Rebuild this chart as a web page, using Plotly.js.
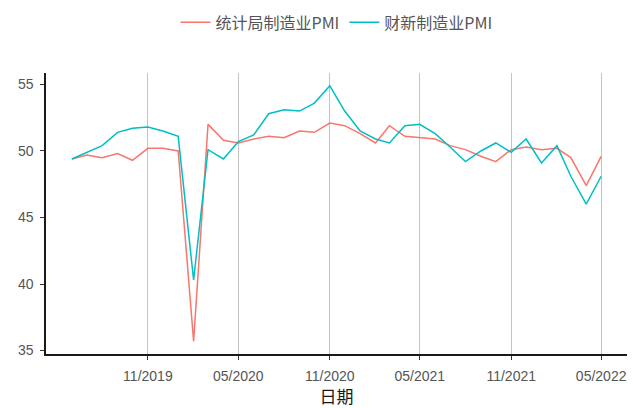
<!DOCTYPE html>
<html>
<head>
<meta charset="utf-8">
<script src="https://cdn.plot.ly/plotly-3.0.1.min.js"></script>
<style>html,body{margin:0;padding:0;background:#fff;}#chart{width:633px;height:408px;}</style>
</head>
<body>
<div id="chart"></div>
<script>
const months = [
  "2019-06-01","2019-07-01","2019-08-01","2019-09-01","2019-10-01","2019-11-01","2019-12-01",
  "2020-01-01","2020-02-01","2020-03-01","2020-04-01","2020-05-01","2020-06-01","2020-07-01",
  "2020-08-01","2020-09-01","2020-10-01","2020-11-01","2020-12-01","2021-01-01","2021-02-01",
  "2021-03-01","2021-04-01","2021-05-01","2021-06-01","2021-07-01","2021-08-01","2021-09-01",
  "2021-10-01","2021-11-01","2021-12-01","2022-01-01","2022-02-01","2022-03-01","2022-04-01",
  "2022-05-01"
];
const nbsPMI = [
  49.4,49.7,49.5,49.8,49.3,50.2,50.2,
  50.0,35.7,52.0,50.8,50.6,50.9,51.1,
  51.0,51.5,51.4,52.1,51.9,51.3,50.6,
  51.9,51.1,51.0,50.9,50.4,50.1,49.6,
  49.2,50.1,50.3,50.1,50.2,49.5,47.4,
  49.6
];
const caixinPMI = [
  49.4,49.9,50.4,51.4,51.7,51.8,51.5,
  51.1,40.3,50.1,49.4,50.7,51.2,52.8,
  53.1,53.0,53.6,54.9,53.0,51.5,50.9,
  50.6,51.9,52.0,51.3,50.3,49.2,50.0,
  50.6,49.9,50.9,49.1,50.4,48.1,46.0,
  48.1
];
const seriesNames = ["统计局制造业PMI","财新制造业PMI"];
const xTickVals = ["2019-11-01","2020-05-01","2020-11-01","2021-05-01","2021-11-01","2022-05-01"];
const xTickText = ["11/2019","05/2020","11/2020","05/2021","11/2021","05/2022"];
const yTickVals = [35,40,45,50,55];
const xTitle = "日期";

const FONT = "Liberation Sans, Arial, Noto Sans CJK SC, sans-serif";
const traces = [
  {x: months, y: nbsPMI, name: seriesNames[0], type: "scatter", mode: "lines",
   line: {color: "#F8766D", width: 1.5}},
  {x: months, y: caixinPMI, name: seriesNames[1], type: "scatter", mode: "lines",
   line: {color: "#00BFC4", width: 1.5}}
];
const layout = {
  width: 633, height: 408,
  margin: {l: 46, r: 6, t: 73, b: 54},
  paper_bgcolor: "#ffffff", plot_bgcolor: "#ffffff",
  font: {family: FONT, color: "#4d4d4d"},
  showlegend: true,
  legend: {orientation: "h", x: 0.5, xanchor: "center", y: 1.18, yanchor: "middle",
           font: {size: 16, color: "#555555", family: "Noto Sans CJK SC, Liberation Sans, sans-serif"},
           itemwidth: 30, tracegroupgap: 0},
  xaxis: {
    type: "date",
    range: ["2019-04-10", "2022-06-22"],
    tickvals: xTickVals, ticktext: xTickText,
    showgrid: true, gridcolor: "#c4c4c4", gridwidth: 1,
    showline: true, linecolor: "#1a1a1a", linewidth: 1.6,
    ticks: "outside", ticklen: 4, tickcolor: "#333333", tickwidth: 1,
    ticklabelstandoff: 5,
    tickfont: {size: 14, color: "#555555", family: FONT},
    zeroline: false,
    title: {text: xTitle, font: {size: 17, color: "#1a1a1a", family: "Noto Sans CJK SC, sans-serif"}, standoff: 8}
  },
  yaxis: {
    range: [34.74, 55.86],
    tickvals: yTickVals,
    showgrid: false,
    showline: true, linecolor: "#1a1a1a", linewidth: 1.6,
    ticks: "outside", ticklen: 4, tickcolor: "#333333", tickwidth: 1,
    ticklabelstandoff: 4,
    tickfont: {size: 14, color: "#555555", family: FONT},
    zeroline: false
  }
};
Plotly.newPlot("chart", traces, layout, {displayModeBar: false, staticPlot: true});
</script>
</body>
</html>
